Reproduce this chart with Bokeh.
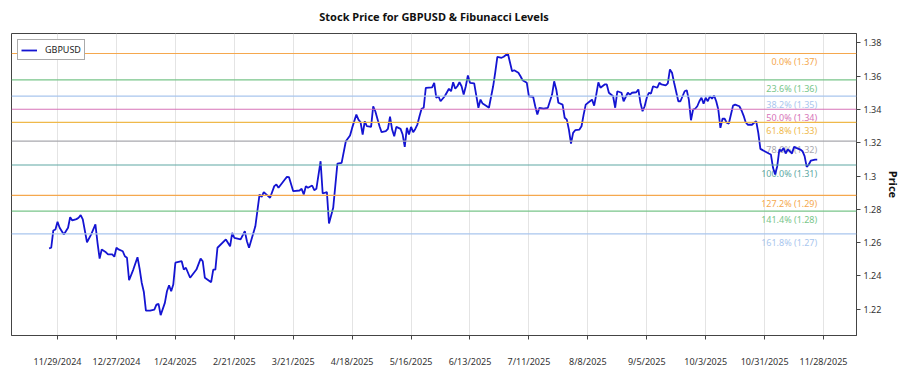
import pandas as pd
from bokeh.plotting import figure
from bokeh.models import (Range1d, FixedTicker, CustomJSTickFormatter, ColumnDataSource,
                          Span, Legend, LegendItem)
from bokeh.embed import file_html
from bokeh.resources import INLINE
from bokeh.core.properties import value

# ---------------- data ----------------
dates = [
    "2024-11-25", "2024-11-26", "2024-11-27", "2024-11-28", "2024-11-29", "2024-11-30", "2024-12-02", "2024-12-04",
    "2024-12-05", "2024-12-06", "2024-12-08", "2024-12-09", "2024-12-10", "2024-12-11", "2024-12-13", "2024-12-15",
    "2024-12-17", "2024-12-18", "2024-12-19", "2024-12-20", "2024-12-22", "2024-12-23", "2024-12-25", "2024-12-26",
    "2024-12-27", "2024-12-28", "2024-12-30", "2024-12-31", "2025-01-01", "2025-01-02", "2025-01-04", "2025-01-06",
    "2025-01-07", "2025-01-08", "2025-01-09", "2025-01-10", "2025-01-12", "2025-01-14", "2025-01-15", "2025-01-16",
    "2025-01-17", "2025-01-19", "2025-01-20", "2025-01-21", "2025-01-22", "2025-01-23", "2025-01-24", "2025-01-26",
    "2025-01-27", "2025-01-28", "2025-01-29", "2025-01-31", "2025-02-03", "2025-02-05", "2025-02-06", "2025-02-07",
    "2025-02-10", "2025-02-11", "2025-02-12", "2025-02-13", "2025-02-17", "2025-02-19", "2025-02-20", "2025-02-21",
    "2025-02-24", "2025-02-26", "2025-02-27", "2025-02-28", "2025-03-03", "2025-03-05", "2025-03-06", "2025-03-07",
    "2025-03-10", "2025-03-12", "2025-03-13", "2025-03-14", "2025-03-17", "2025-03-18", "2025-03-19", "2025-03-21",
    "2025-03-24", "2025-03-25", "2025-03-26", "2025-03-27", "2025-03-28", "2025-03-30", "2025-03-31", "2025-04-01",
    "2025-04-03", "2025-04-04", "2025-04-06", "2025-04-07", "2025-04-09", "2025-04-11", "2025-04-13", "2025-04-15",
    "2025-04-17", "2025-04-18", "2025-04-20", "2025-04-21", "2025-04-22", "2025-04-23", "2025-04-24", "2025-04-25",
    "2025-04-27", "2025-04-28", "2025-04-29", "2025-05-01", "2025-05-02", "2025-05-04", "2025-05-05", "2025-05-06",
    "2025-05-07", "2025-05-08", "2025-05-09", "2025-05-11", "2025-05-12", "2025-05-13", "2025-05-14", "2025-05-15",
    "2025-05-16", "2025-05-17", "2025-05-18", "2025-05-19", "2025-05-20", "2025-05-21", "2025-05-22", "2025-05-23",
    "2025-05-26", "2025-05-27", "2025-05-28", "2025-05-29", "2025-05-30", "2025-05-31", "2025-06-01", "2025-06-03",
    "2025-06-04", "2025-06-05", "2025-06-06", "2025-06-07", "2025-06-08", "2025-06-09", "2025-06-10", "2025-06-11",
    "2025-06-12", "2025-06-13", "2025-06-15", "2025-06-16", "2025-06-17", "2025-06-18", "2025-06-19", "2025-06-21",
    "2025-06-22", "2025-06-24", "2025-06-25", "2025-06-26", "2025-06-28", "2025-06-29", "2025-07-01", "2025-07-03",
    "2025-07-04", "2025-07-06", "2025-07-07", "2025-07-08", "2025-07-10", "2025-07-11", "2025-07-13", "2025-07-14",
    "2025-07-15", "2025-07-16", "2025-07-18", "2025-07-20", "2025-07-22", "2025-07-23", "2025-07-24", "2025-07-25",
    "2025-07-27", "2025-07-28", "2025-07-29", "2025-07-30", "2025-07-31", "2025-08-01", "2025-08-02", "2025-08-04",
    "2025-08-05", "2025-08-06", "2025-08-07", "2025-08-09", "2025-08-10", "2025-08-11", "2025-08-12", "2025-08-13",
    "2025-08-14", "2025-08-16", "2025-08-17", "2025-08-18", "2025-08-20", "2025-08-21", "2025-08-22", "2025-08-24",
    "2025-08-25", "2025-08-27", "2025-08-28", "2025-08-29", "2025-08-31", "2025-09-01", "2025-09-02", "2025-09-03",
    "2025-09-04", "2025-09-05", "2025-09-06", "2025-09-07", "2025-09-08", "2025-09-10", "2025-09-11", "2025-09-12",
    "2025-09-14", "2025-09-15", "2025-09-16", "2025-09-17", "2025-09-18", "2025-09-20", "2025-09-21", "2025-09-23",
    "2025-09-24", "2025-09-25", "2025-09-26", "2025-09-27", "2025-09-28", "2025-09-29", "2025-09-30", "2025-10-01",
    "2025-10-02", "2025-10-03", "2025-10-04", "2025-10-05", "2025-10-06", "2025-10-07", "2025-10-08", "2025-10-09",
    "2025-10-10", "2025-10-11", "2025-10-12", "2025-10-13", "2025-10-14", "2025-10-15", "2025-10-16", "2025-10-17",
    "2025-10-19", "2025-10-20", "2025-10-21", "2025-10-22", "2025-10-23", "2025-10-25", "2025-10-26", "2025-10-27",
    "2025-10-28", "2025-10-29", "2025-10-31", "2025-11-02", "2025-11-03", "2025-11-04", "2025-11-05", "2025-11-06",
    "2025-11-07", "2025-11-08", "2025-11-09", "2025-11-10", "2025-11-11", "2025-11-12", "2025-11-13", "2025-11-14",
    "2025-11-15", "2025-11-17", "2025-11-18", "2025-11-19", "2025-11-20", "2025-11-21", "2025-11-22", "2025-11-24",
    "2025-11-25",
]

prices = [
    1.2565, 1.2569, 1.2673, 1.2679, 1.2725, 1.2689, 1.2649, 1.2689,
    1.2753, 1.2733, 1.2741, 1.2749, 1.2765, 1.2739, 1.2602, 1.2649,
    1.2709, 1.2599, 1.2504, 1.2559, 1.2542, 1.2529, 1.2529, 1.2515,
    1.2569, 1.2559, 1.2548, 1.2518, 1.2509, 1.2374, 1.2438, 1.2512,
    1.2444, 1.2359, 1.2305, 1.2192, 1.2192, 1.2198, 1.2228, 1.2232,
    1.2164, 1.2238, 1.2308, 1.2344, 1.2308, 1.2348, 1.2479, 1.2485,
    1.2488, 1.2438, 1.2449, 1.2389, 1.2438, 1.2504, 1.2488, 1.2389,
    1.2362, 1.2438, 1.2438, 1.2569, 1.2619, 1.2578, 1.2659, 1.2629,
    1.2619, 1.2668, 1.2608, 1.2569, 1.2698, 1.2889, 1.2875, 1.2903,
    1.2869, 1.2939, 1.2949, 1.2929, 1.2979, 1.2995, 1.2993, 1.2909,
    1.2913, 1.2923, 1.2889, 1.2939, 1.2929, 1.2943, 1.2915, 1.2923,
    1.3089, 1.2895, 1.2903, 1.2715, 1.2809, 1.3075, 1.3079, 1.3209,
    1.3243, 1.3289, 1.3369, 1.3339, 1.3323, 1.3249, 1.3329, 1.3299,
    1.3295, 1.3419, 1.3389, 1.3299, 1.3263, 1.3269, 1.3283, 1.3356,
    1.3279, 1.3239, 1.3295, 1.3283, 1.3249, 1.3175, 1.3289, 1.3249,
    1.3295, 1.3263, 1.3283, 1.3309, 1.3359, 1.3404, 1.3410, 1.3530,
    1.3533, 1.3560, 1.3470, 1.3479, 1.3449, 1.3464, 1.3479, 1.3524,
    1.3509, 1.3563, 1.3524, 1.3539, 1.3563, 1.3539, 1.3489, 1.3539,
    1.3604, 1.3560, 1.3556, 1.3483, 1.3410, 1.3459, 1.3435, 1.3419,
    1.3410, 1.3539, 1.3623, 1.3716, 1.3710, 1.3716, 1.3736, 1.3629,
    1.3635, 1.3620, 1.3599, 1.3575, 1.3560, 1.3479, 1.3476, 1.3419,
    1.3369, 1.3410, 1.3404, 1.3410, 1.3489, 1.3569, 1.3520, 1.3440,
    1.3429, 1.3350, 1.3339, 1.3279, 1.3195, 1.3259, 1.3275, 1.3279,
    1.3299, 1.3369, 1.3429, 1.3449, 1.3459, 1.3423, 1.3489, 1.3563,
    1.3530, 1.3550, 1.3550, 1.3500, 1.3479, 1.3410, 1.3509, 1.3500,
    1.3449, 1.3500, 1.3489, 1.3500, 1.3503, 1.3520, 1.3440, 1.3389,
    1.3419, 1.3470, 1.3500, 1.3495, 1.3539, 1.3530, 1.3560, 1.3550,
    1.3544, 1.3556, 1.3640, 1.3620, 1.3560, 1.3449, 1.3449, 1.3509,
    1.3515, 1.3459, 1.3335, 1.3399, 1.3404, 1.3419, 1.3449, 1.3470,
    1.3435, 1.3470, 1.3449, 1.3479, 1.3464, 1.3483, 1.3449, 1.3399,
    1.3289, 1.3344, 1.3344, 1.3320, 1.3315, 1.3369, 1.3423, 1.3429,
    1.3419, 1.3395, 1.3363, 1.3323, 1.3308, 1.3308, 1.3320, 1.3329,
    1.3259, 1.3163, 1.3149, 1.3135, 1.3129, 1.3049, 1.3009, 1.3059,
    1.3159, 1.3149, 1.3169, 1.3135, 1.3159, 1.3149, 1.3135, 1.3175,
    1.3169, 1.3159, 1.3149, 1.3119, 1.3055, 1.3069, 1.3093, 1.3099,
    1.3099,
]

fib_ratios = [0.0, 0.236, 0.382, 0.5, 0.618, 0.786, 1.0, 1.272, 1.414, 1.618]
fib_high = 1.3736
fib_low = 1.3066
fib_colors = ["#f5a84e", "#78c58a", "#a9c6ee", "#d773b8", "#efb94a",
              "#a8a8ae", "#5ea8a4", "#f5a84e", "#78c58a", "#a9c6ee"]

x_tick_labels = ["11/29/2024", "12/27/2024", "1/24/2025", "2/21/2025", "3/21/2025",
                 "4/18/2025", "5/16/2025", "6/13/2025", "7/11/2025", "8/8/2025",
                 "9/5/2025", "10/3/2025", "10/31/2025", "11/28/2025"]
y_ticks = [1.22, 1.24, 1.26, 1.28, 1.30, 1.32, 1.34, 1.36, 1.38]

title_text = "Stock Price for GBPUSD & Fibunacci Levels"
x_start = "2024-11-07 03:00"
x_end = "2025-12-13 16:00"
y_start, y_end = 1.2042, 1.3856

# ---------------- figure ----------------
FONT = "Noto Sans"
dt = pd.to_datetime(dates)
src = ColumnDataSource(dict(x=dt, y=prices))

p = figure(frame_width=845, frame_height=302, x_axis_type="datetime", y_axis_location="right",
           x_range=Range1d(pd.Timestamp(x_start), pd.Timestamp(x_end)),
           y_range=Range1d(y_start, y_end),
           output_backend="svg", toolbar_location=None, title=title_text,
           min_border_left=11, min_border_right=0, min_border_top=0, min_border_bottom=2)

p.title.align = "center"
p.title.vertical_align = "top"
p.title.text_font = FONT
p.title.text_font_size = "11px"
p.title.text_font_style = "bold"
p.title.text_color = "#111111"
p.title.standoff = 16

p.outline_line_color = "#444444"
p.outline_line_width = 1
p.background_fill_color = "white"
p.border_fill_color = "white"

# grid
p.ygrid.grid_line_color = None
p.xgrid.grid_line_color = "#e4e4e4"

# fib levels
levels = [fib_high - r * (fib_high - fib_low) for r in fib_ratios]
labels = [f"{r*100:.1f}% ({lv:.2f})" for r, lv in zip(fib_ratios, levels)]
for lv, c in zip(levels, fib_colors):
    p.add_layout(Span(location=lv, dimension="width", line_color=c, line_width=1.2))

lab_src = ColumnDataSource(dict(x=[dt[-1]] * len(levels), y=levels, text=labels, color=fib_colors))
p.text(x="x", y="y", text="text", source=lab_src, text_color="color",
       text_align="right", text_baseline="top", y_offset=2,
       text_font=value(FONT), text_font_size="9px")

# price line
r = p.line("x", "y", source=src, line_color="#1414d2", line_width=1.8)

legend = Legend(items=[LegendItem(label="GBPUSD", renderers=[r])], location="top_left")
legend.margin = 6
legend.padding = 3
legend.spacing = 0
legend.label_height = 12
legend.glyph_height = 12
legend.glyph_width = 16
legend.label_standoff = 8
legend.label_text_font = FONT
legend.label_text_font_size = "9px"
legend.label_text_color = "#222222"
legend.border_line_color = "#555555"
legend.border_line_width = 1
legend.background_fill_color = "white"
legend.background_fill_alpha = 1
p.add_layout(legend)

# x axis
x_ticks = [t.timestamp() * 1000 for t in pd.to_datetime(x_tick_labels, format="%m/%d/%Y")]
p.xaxis.ticker = FixedTicker(ticks=x_ticks)
p.xaxis.formatter = CustomJSTickFormatter(code="""
    const d = new Date(tick);
    return (d.getUTCMonth() + 1) + "/" + d.getUTCDate() + "/" + d.getUTCFullYear();
""")
p.xaxis.major_label_standoff = 15
p.xaxis.major_tick_out = 4
p.xaxis.major_tick_in = 0
p.xaxis.minor_tick_line_color = None
p.xaxis.axis_line_color = "#444444"
p.xaxis.major_tick_line_color = "#444444"
p.xaxis.major_label_text_font = FONT
p.xaxis.major_label_text_font_size = "9px"
p.xaxis.major_label_text_color = "#333333"

# y axis
p.yaxis.ticker = FixedTicker(ticks=y_ticks)
p.yaxis.formatter = CustomJSTickFormatter(code="return String(Number(tick.toFixed(2)));")
p.yaxis.axis_label = "Price"
p.yaxis.axis_label_text_font = FONT
p.yaxis.axis_label_text_font_size = "11px"
p.yaxis.axis_label_text_font_style = "bold"
p.yaxis.axis_label_text_color = "#111111"
p.yaxis.axis_label_standoff = 2
p.yaxis.major_label_standoff = 3
p.yaxis.major_tick_out = 4
p.yaxis.major_tick_in = 0
p.yaxis.minor_tick_line_color = None
p.yaxis.axis_line_color = "#444444"
p.yaxis.major_tick_line_color = "#444444"
p.yaxis.major_label_text_font = FONT
p.yaxis.major_label_text_font_size = "9px"
p.yaxis.major_label_text_color = "#333333"

open("out.html", "w").write(file_html(p, INLINE))
